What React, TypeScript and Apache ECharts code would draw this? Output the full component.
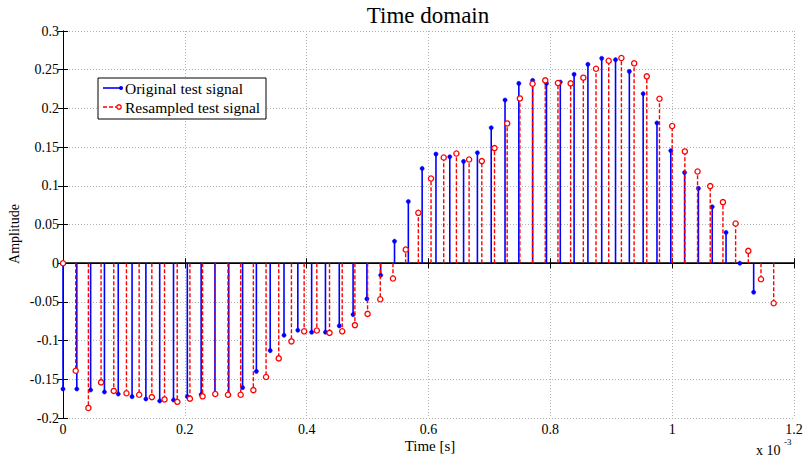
import React, { useEffect, useRef } from "react";
import * as echarts from "echarts";

// Sample rates in kHz (x axis is in units of 10^-3 s)
const FS_ORIG = 44.1;
const FS_RES = 48;

const originalValues = [
  -0.1625, -0.1625, -0.1638, -0.1664, -0.169, -0.1724, -0.1754, -0.178, -0.1767, -0.1724,
  -0.1698, -0.1694, -0.1703, -0.1608, -0.1397, -0.1129, -0.0931, -0.0866, -0.0892, -0.0892,
  -0.081, -0.0664, -0.0461, -0.0155, 0.0284, 0.0797, 0.1224, 0.141, 0.1375, 0.1315,
  0.1427, 0.175, 0.2108, 0.2323, 0.2362, 0.2323, 0.234, 0.244, 0.2569, 0.2647,
  0.2629, 0.2478, 0.219, 0.1812, 0.1453, 0.1172, 0.0966, 0.0728, 0.0397, 0.0,
  -0.0375,
];

const resampledValues = [
  0, -0.139, -0.187, -0.154, -0.165, -0.168, -0.17, -0.173, -0.176, -0.178,
  -0.175, -0.172, -0.169, -0.17, -0.17, -0.164, -0.147, -0.123, -0.101, -0.088,
  -0.087, -0.09, -0.088, -0.08, -0.0655, -0.0466, -0.0198, 0.0185, 0.0651, 0.1095,
  0.1366, 0.1418, 0.134, 0.1319, 0.1487, 0.1806, 0.2129, 0.2319, 0.2362, 0.2328,
  0.2323, 0.2397, 0.2513, 0.2616, 0.2651, 0.2591, 0.2414, 0.2125, 0.1772, 0.1444,
  0.1185, 0.0996, 0.0789, 0.0513, 0.0159, -0.0207, -0.0517,
];

const seriesNames = ["Original test signal", "Resampled test signal"];
const xTicks = { min: 0, max: 1.2, interval: 0.2 };
const yTicks = { min: -0.2, max: 0.3, interval: 0.05 };

const FONT = "'Liberation Serif', 'DejaVu Serif', serif";
const BLUE = "#0000ff";
const RED = "#ff0000";

export default function App() {
  const ref = useRef<HTMLDivElement>(null);

  useEffect(() => {
    if (!ref.current) return;
    const chart = echarts.init(ref.current, undefined, { renderer: "svg" });

    const origData = originalValues.map((v, i) => [i / FS_ORIG, v]);
    const resData = resampledValues.map((v, i) => [i / FS_RES, v]);

    const stem = (kind: "orig" | "res") => (params: any, api: any) => {
      const t = api.value(0);
      const v = api.value(1);
      const p0 = api.coord([t, 0]);
      const p1 = api.coord([t, v]);
      if (kind === "orig") {
        return {
          type: "group",
          children: [
            {
              type: "line",
              shape: { x1: p0[0], y1: p0[1], x2: p1[0], y2: p1[1] },
              style: { stroke: BLUE, lineWidth: 1.6 },
            },
            {
              type: "circle",
              shape: { cx: p1[0], cy: p1[1], r: 2.1 },
              style: { fill: BLUE, stroke: BLUE, lineWidth: 0.5 },
            },
          ],
        };
      }
      return {
        type: "group",
        children: [
          {
            type: "line",
            shape: { x1: p0[0], y1: p0[1], x2: p1[0], y2: p1[1] },
            style: { stroke: RED, lineWidth: 1.4, lineDash: [4, 2] },
          },
          {
            type: "circle",
            shape: { cx: p1[0], cy: p1[1], r: 2.6 },
            style: { fill: "#ffffff", stroke: RED, lineWidth: 1.3 },
          },
        ],
      };
    };

    const fmtX = (v: number) => String(Number(v.toFixed(1)));
    const fmtY = (v: number) => String(Number(v.toFixed(2)));

    const axisLine = { show: true, lineStyle: { color: "#000", width: 1 } };
    const axisTick = { show: true, inside: true, length: 5, lineStyle: { color: "#000", width: 1 } };
    const splitLine = { show: true, lineStyle: { color: "#b4b4b4", type: [1, 2] as any, width: 1 } };

    const lx = 98;
    const ly = 78;

    chart.setOption({
      animation: false,
      backgroundColor: "#ffffff",
      grid: { left: 63, right: 14, top: 31, bottom: 42, containLabel: false },
      xAxis: [
        {
          type: "value",
          ...xTicks,
          axisLine,
          axisTick,
          splitLine,
          axisLabel: { formatter: fmtX, color: "#000", fontFamily: FONT, fontSize: 14, lineHeight: 14, margin: 4 },
        },
        {
          type: "value",
          position: "top",
          ...xTicks,
          axisLine,
          axisTick,
          splitLine: { show: false },
          axisLabel: { show: false },
        },
      ],
      yAxis: [
        {
          type: "value",
          ...yTicks,
          axisLine,
          axisTick,
          splitLine,
          axisLabel: { formatter: fmtY, color: "#000", fontFamily: FONT, fontSize: 14, margin: 4 },
        },
        {
          type: "value",
          position: "right",
          ...yTicks,
          axisLine,
          axisTick,
          splitLine: { show: false },
          axisLabel: { show: false },
        },
      ],
      series: [
        {
          name: seriesNames[0],
          type: "custom",
          renderItem: stem("orig"),
          data: origData,
          z: 3,
          markLine: {
            silent: true,
            symbol: "none",
            label: { show: false },
            lineStyle: { color: "#000", width: 1.6, type: "solid" },
            data: [{ yAxis: 0 }],
            z: 2,
          },
        },
        {
          name: seriesNames[1],
          type: "custom",
          renderItem: stem("res"),
          data: resData,
          z: 4,
        },
      ],
      graphic: [
        {
          type: "text",
          style: { text: "Time domain", x: 428, y: 4, align: "center", fill: "#000", font: `23px ${FONT}` },
        },
        {
          type: "text",
          style: { text: "Time [s]", x: 430, y: 438, align: "center", fill: "#000", font: `15px ${FONT}` },
        },
        {
          type: "text",
          x: 7,
          y: 234,
          rotation: Math.PI / 2,
          style: { text: "Amplitude", x: 0, y: 0, align: "center", verticalAlign: "top", fill: "#000", font: `14px ${FONT}` },
        },
        {
          type: "text",
          style: { text: "x 10", x: 756, y: 443, fill: "#000", font: `14px ${FONT}` },
        },
        {
          type: "text",
          style: { text: "-3", x: 784, y: 437, fill: "#000", font: `9px ${FONT}` },
        },
        // Legend
        {
          type: "rect",
          shape: { x: lx, y: ly, width: 168, height: 41 },
          style: { fill: "#ffffff", stroke: "#000", lineWidth: 1 },
          z: 10,
        },
        {
          type: "line",
          shape: { x1: lx + 5, y1: ly + 10, x2: lx + 23, y2: ly + 10 },
          style: { stroke: BLUE, lineWidth: 1.6 },
          z: 11,
        },
        {
          type: "circle",
          shape: { cx: lx + 23, cy: ly + 10, r: 2.1 },
          style: { fill: BLUE },
          z: 11,
        },
        {
          type: "text",
          style: { text: seriesNames[0], x: lx + 27, y: ly + 10, verticalAlign: "middle", fill: "#000", font: `15.5px ${FONT}` },
          z: 11,
        },
        {
          type: "line",
          shape: { x1: lx + 5, y1: ly + 29, x2: lx + 20, y2: ly + 29 },
          style: { stroke: RED, lineWidth: 1.4, lineDash: [4, 2] },
          z: 11,
        },
        {
          type: "circle",
          shape: { cx: lx + 21, cy: ly + 29, r: 2.2 },
          style: { fill: "#ffffff", stroke: RED, lineWidth: 1.3 },
          z: 11,
        },
        {
          type: "text",
          style: { text: seriesNames[1], x: lx + 27, y: ly + 29, verticalAlign: "middle", fill: "#000", font: `15.5px ${FONT}` },
          z: 11,
        },
      ],
    });

    return () => chart.dispose();
  }, []);

  return (
    <div
      ref={ref}
      style={{ position: "fixed", left: 0, top: 0, width: 808, height: 460, background: "#fff" }}
    />
  );
}
